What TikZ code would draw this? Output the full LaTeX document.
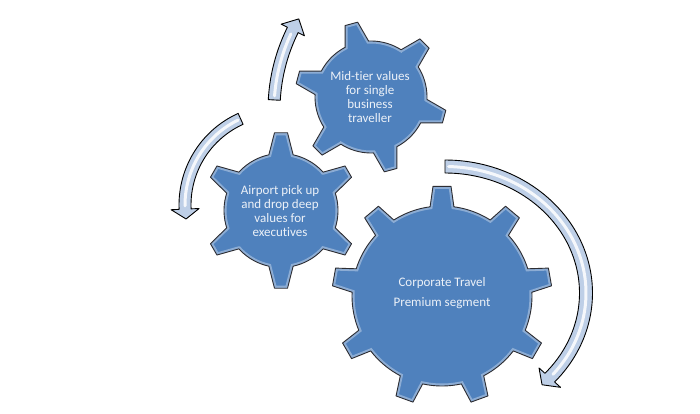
\documentclass[tikz,border=0pt]{standalone}
\usepackage{fontspec}
\setmainfont{Carlito}[Ligatures=NoCommon]
\definecolor{gearblue}{RGB}{79,129,189}
\definecolor{gearedge}{RGB}{45,45,50}
\definecolor{arrowfill}{RGB}{190,207,231}
\definecolor{txt}{RGB}{236,241,248}
% #1 cx, #2 cy, #3 body radius, #4 tip radius, #5 teeth, #6 first tooth angle, #7 tip half-angle, #8 base half-angle
\newcommand{\gearpath}[8]{%
 ({#1+#3*cos(#6-#8)},{#2+#3*sin(#6-#8)})
 \foreach \k [evaluate=\k as \a using {#6+(\k-1)*360/#5}] in {1,...,#5}{
  -- ({#1+#3*cos(\a-#8)},{#2+#3*sin(\a-#8)})
  -- ({#1+#4*cos(\a-#7)},{#2+#4*sin(\a-#7)})
  -- ({#1+#4*cos(\a+#7)},{#2+#4*sin(\a+#7)})
  -- ({#1+#3*cos(\a+#8)},{#2+#3*sin(\a+#8)})
  -- plot[domain={\a+#8}:{\a+360/#5-#8}, samples=10] ({#1+#3*cos(\x)},{#2+#3*sin(\x)})
 } -- cycle}
\newcommand{\gearTop}{\gearpath{371}{97}{56}{76}{6}{-105}{4.9}{12.5}}
\newcommand{\gearLeft}{\gearpath{281}{210.5}{57}{78}{6}{-90}{4.8}{12.3}}
\newcommand{\gearBig}{\gearpath{442}{296}{90}{110}{9}{-90}{4.7}{7.6}}
\begin{document}
\begin{tikzpicture}[x=1pt,y=-1pt,
  gearbody/.style={fill=gearblue},
  gearrim/.style={white, opacity=0.35, line width=5pt},
  gearline/.style={draw=gearedge, line width=0.9pt, line join=round},
  arrowbody/.style={fill=arrowfill, draw=black, line width=0.9pt, line join=round},
  tube/.style={white, opacity=0.85, line width=3pt, line cap=round},
  gtext/.style={text=txt, align=center, inner sep=0pt, font=\fontsize{13}{14}\selectfont},
  btext/.style={text=txt, align=center, inner sep=0pt, font=\fontsize{13}{20}\selectfont}]
\useasboundingbox (0,0) rectangle (700,414);
\fill[white] (0,0) rectangle (700,414);

% ---- curved arrows ----
% top arrow
\path[arrowbody] plot[domain=-176.8:-153.6, samples=30] ({454+186*cos(\x)},{110+186*sin(\x)})
  -- ({454+193*cos(-153.6)},{110+193*sin(-153.6)})
  -- ({454+180*cos(-149.6)},{110+180*sin(-149.6)})
  -- ({454+167*cos(-153.6)},{110+167*sin(-153.6)})
  -- plot[domain=-153.6:-176.8, samples=30] ({454+174*cos(\x)},{110+174*sin(\x)})
  -- cycle;
\draw[tube] plot[domain=-175.5:-155, samples=30] ({454+180*cos(\x)},{110+180*sin(\x)});
% left arrow
\path[arrowbody] plot[domain=245.7:177.5, samples=40] ({279.5+100.5*cos(\x)},{205+100.5*sin(\x)})
  -- ({279.5+108.5*cos(177.5)},{205+108.5*sin(177.5)})
  -- ({279.5+94.5*cos(171.5)},{205+94.5*sin(171.5)})
  -- ({279.5+80.5*cos(177.5)},{205+80.5*sin(177.5)})
  -- plot[domain=177.5:245.7, samples=40] ({279.5+88.5*cos(\x)},{205+88.5*sin(\x)})
  -- cycle;
\draw[tube] plot[domain=244:179.5, samples=40] ({279.5+94.5*cos(\x)},{205+94.5*sin(\x)});
% right arrow
\path[arrowbody] plot[domain=-90:42, samples=70] ({445+147.5*cos(\x)},{293+133*sin(\x)})
  -- ({445+155.5*cos(42)},{293+141*sin(42)})
  -- ({445+141*cos(46.5)},{293+126.5*sin(46.5)})
  -- ({445+126.5*cos(42)},{293+112*sin(42)})
  -- plot[domain=42:-90, samples=70] ({445+134.5*cos(\x)},{293+120*sin(\x)})
  -- cycle;
\draw[tube] plot[domain=-88.5:40, samples=70] ({445+141*cos(\x)},{293+126.5*sin(\x)});

% ---- gears ----
\path[gearbody] \gearTop;
\begin{scope}\clip \gearTop; \draw[gearrim] \gearTop; \end{scope}
\path[gearline] \gearTop;

\path[gearbody] \gearLeft;
\begin{scope}\clip \gearLeft; \draw[gearrim] \gearLeft; \end{scope}
\path[gearline] \gearLeft;

\path[gearbody] \gearBig;
\begin{scope}\clip \gearBig; \draw[gearrim] \gearBig; \end{scope}
\path[gearline] \gearBig;

% ---- texts ----
\node[gtext] (mid) at (370,97.5) {Mid-tier values\\for single\\business\\traveller};
\node[gtext] (air) at (280,211.5) {Airport pick up\\and drop deep\\values for\\executives};
\node[btext] (corp) at (442,293.5) {Corporate Travel\\Premium segment};
\end{tikzpicture}
\end{document}
